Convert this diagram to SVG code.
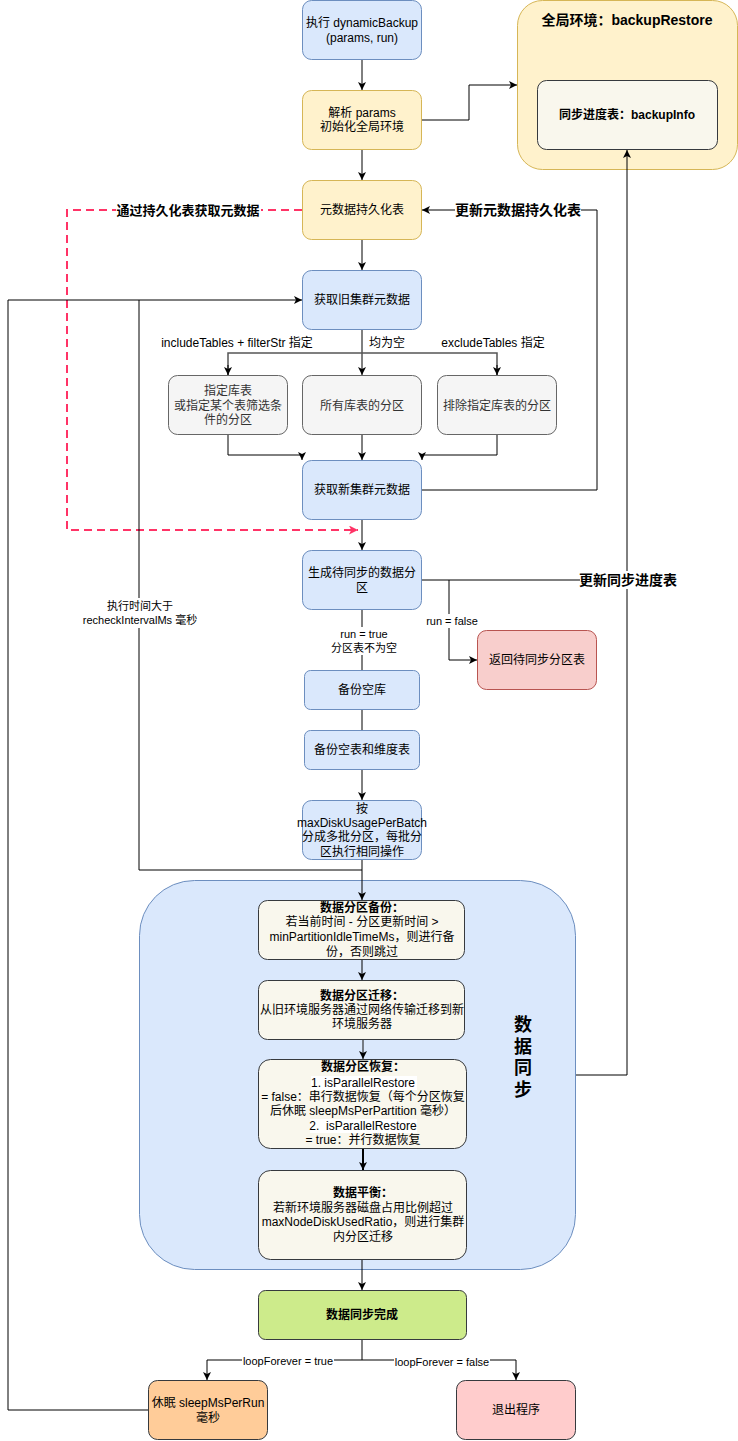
<svg xmlns="http://www.w3.org/2000/svg" width="738" height="1441" viewBox="0 0 738 1441">
<style>
text{font-family:"Liberation Sans","Noto Sans CJK SC",sans-serif;font-size:12px;fill:#000;text-anchor:middle;dominant-baseline:central}
.b{font-weight:bold}
.s{font-size:11px}
.g{fill:#333333}
.blue{fill:#dae8fc;stroke:#6c8ebf}
.yel{fill:#fff2cc;stroke:#d6b656}
.gray{fill:#f5f5f5;stroke:#666666}
.cream{fill:#f9f7ed;stroke:#36393d}
.e{fill:none;stroke:#000;stroke-width:1}
.lb{fill:#fff;stroke:none}
</style>
<defs>
<marker id="a" viewBox="0 0 8 8" refX="8" refY="4" markerWidth="8" markerHeight="8" markerUnits="userSpaceOnUse" orient="auto"><path d="M0,0 L8,4 L0,8 L2,4 z" fill="#000"/></marker>
<marker id="ar" viewBox="0 0 8 8" refX="8" refY="4" markerWidth="9" markerHeight="9" markerUnits="userSpaceOnUse" orient="auto"><path d="M0,0 L8,4 L0,8 L2,4 z" fill="#ff3366"/></marker>
</defs>
<rect width="738" height="1441" fill="#fff"/>

<g id="global-env">
<rect x="517.5" y="0.5" width="220" height="169" rx="25" class="yel"/>
<text x="627" y="20" class="b" style="font-size:14px">全局环境：backupRestore</text>
</g>
<g id="backupInfo">
<rect x="537.5" y="80.5" width="180" height="69" rx="9" class="cream"/>
<text x="627" y="115" class="b">同步进度表：backupInfo</text>
</g>

<g id="sync-container">
<rect x="139.5" y="880.5" width="436" height="389" rx="55" class="blue"/>
<text x="523" y="1025" class="b" style="font-size:18px">数</text>
<text x="523" y="1047" class="b" style="font-size:18px">据</text>
<text x="523" y="1068" class="b" style="font-size:18px">同</text>
<text x="523" y="1090" class="b" style="font-size:18px">步</text>
</g>

<g id="connectors">
<path class="e" d="M362,60 V90" marker-end="url(#a)"/>
<path class="e" d="M422,120 H469 V85 H517" marker-end="url(#a)"/>
<path class="e" d="M362,150 V180" marker-end="url(#a)"/>
<path class="e" d="M362,240 V270" marker-end="url(#a)"/>
<path class="e" d="M362,330 V375" marker-end="url(#a)"/>
<path d="M228,375 V353 H497 V375" fill="none" stroke="#555" stroke-width="1.5"/>
<path class="e" d="M228,365 V375" marker-end="url(#a)"/>
<path class="e" d="M497,365 V375" marker-end="url(#a)"/>
<path class="e" d="M228,435 V455 H302 V460" marker-end="url(#a)"/>
<path class="e" d="M362,435 V460" marker-end="url(#a)"/>
<path class="e" d="M497,435 V455 H422 V460" marker-end="url(#a)"/>
<path class="e" d="M422,490 H597 V210 H422" marker-end="url(#a)"/>
<path d="M302,210 H67 V530 H358" fill="none" stroke="#ff3366" stroke-width="2" stroke-dasharray="8 5" marker-end="url(#ar)"/>
<path class="e" d="M362,520 V550" marker-end="url(#a)"/>
<path class="e" d="M422,580 H627"/>
<path class="e" d="M576,1075 H627 V150" marker-end="url(#a)"/>
<path class="e" d="M449,580 V660 H477" marker-end="url(#a)"/>
<path class="e" d="M362,610 V670"/>
<path class="e" d="M362,710 V730"/>
<path class="e" d="M362,770 V800" marker-end="url(#a)"/>
<path class="e" d="M362,860 V900" marker-end="url(#a)"/>
<path class="e" d="M362,870 H139 V300 H302" marker-end="url(#a)"/>
<path class="e" d="M148,1410 H8 V300 H139"/>
<path class="e" d="M362,960 V980" marker-end="url(#a)"/>
<path d="M363,1040 V1059" fill="none" stroke="#333" stroke-width="1.2" marker-end="url(#a)"/>
<path d="M363,1149 V1170" fill="none" stroke="#000" stroke-width="2" marker-end="url(#a)"/>
<path class="e" d="M362,1270 V1290" marker-end="url(#a)"/>
<path class="e" d="M362,1260 V1270"/>
<path class="e" d="M362,1340 V1360 H207 V1380" marker-end="url(#a)"/>
<path class="e" d="M362,1360 H516 V1380" marker-end="url(#a)"/>

<rect class="lb" x="116" y="202" width="145" height="16"/>
<text x="188" y="210" class="b" style="font-size:13px">通过持久化表获取元数据</text>
<rect class="lb" x="455" y="201" width="126" height="18"/>
<text x="518" y="210" class="b" style="font-size:14px">更新元数据持久化表</text>
<text x="237" y="343">includeTables + filterStr 指定</text>
<text x="387" y="343">均为空</text>
<text x="493" y="343">excludeTables 指定</text>
<rect class="lb" x="580" y="571" width="97" height="18"/>
<text x="628" y="580" class="b" style="font-size:14px">更新同步进度表</text>
<rect class="lb" x="425" y="614" width="54" height="14"/>
<text x="452" y="621" class="s">run = false</text>
<rect class="lb" x="333" y="627" width="62" height="28"/>
<text x="364" y="634" class="s">run = true</text>
<text x="364" y="648" class="s">分区表不为空</text>
<rect class="lb" x="82" y="598" width="116" height="30"/>
<text x="140" y="606" class="s">执行时间大于</text>
<text x="140" y="620" class="s">recheckIntervalMs 毫秒</text>
<rect class="lb" x="242" y="1354" width="92" height="14"/>
<text x="288" y="1361" class="s">loopForever = true</text>
<rect class="lb" x="394" y="1355" width="96" height="14"/>
<text x="442" y="1362" class="s">loopForever = false</text>
</g>

<g id="n-start">
<rect x="302.5" y="0.5" width="119" height="59" rx="9" class="blue"/>
<text x="362" y="23">执行 dynamicBackup</text>
<text x="362" y="38">(params, run)</text>
</g>
<g id="n-parse">
<rect x="302.5" y="90.5" width="119" height="59" rx="9" class="yel"/>
<text x="362" y="113">解析 params</text>
<text x="362" y="127">初始化全局环境</text>
</g>
<g id="n-meta-table">
<rect x="302.5" y="180.5" width="119" height="59" rx="9" class="yel"/>
<text x="362" y="210">元数据持久化表</text>
</g>
<g id="n-old-meta">
<rect x="302.5" y="270.5" width="119" height="59" rx="9" class="blue"/>
<text x="362" y="300">获取旧集群元数据</text>
</g>
<g id="n-include">
<rect x="168.5" y="375.5" width="119" height="59" rx="9" class="gray"/>
<text x="228" y="391" class="g">指定库表</text>
<text x="228" y="406" class="g">或指定某个表筛选条</text>
<text x="228" y="420" class="g">件的分区</text>
</g>
<g id="n-all">
<rect x="302.5" y="375.5" width="119" height="59" rx="9" class="gray"/>
<text x="362" y="406" class="g">所有库表的分区</text>
</g>
<g id="n-exclude">
<rect x="437.5" y="375.5" width="119" height="59" rx="9" class="gray"/>
<text x="497" y="406" class="g">排除指定库表的分区</text>
</g>
<g id="n-new-meta">
<rect x="302.5" y="460.5" width="119" height="59" rx="9" class="blue"/>
<text x="362" y="490">获取新集群元数据</text>
</g>
<g id="n-gen">
<rect x="302.5" y="550.5" width="119" height="59" rx="9" class="blue"/>
<text x="362" y="573">生成待同步的数据分</text>
<text x="362" y="588">区</text>
</g>
<g id="n-return">
<rect x="477.5" y="630.5" width="119" height="59" rx="9" fill="#f8cecc" stroke="#b85450"/>
<text x="537" y="660">返回待同步分区表</text>
</g>
<g id="n-empty-db">
<rect x="304.5" y="670.5" width="115" height="39" rx="6" class="blue"/>
<text x="362" y="690">备份空库</text>
</g>
<g id="n-empty-table">
<rect x="304.5" y="730.5" width="115" height="39" rx="6" class="blue"/>
<text x="362" y="750">备份空表和维度表</text>
</g>
<g id="n-batch">
<rect x="302.5" y="800.5" width="119" height="59" rx="9" class="blue"/>
<text x="362" y="809">按</text>
<text x="362" y="823">maxDiskUsagePerBatch</text>
<text x="362" y="837">分成多批分区，每批分</text>
<text x="362" y="852">区执行相同操作</text>
</g>
<g id="n-backup">
<rect x="258.5" y="900.5" width="206" height="59" rx="9" class="cream"/>
<text x="362" y="908" class="b">数据分区备份：</text>
<text x="362" y="922">若当前时间 - 分区更新时间 &gt;</text>
<text x="362" y="937">minPartitionIdleTimeMs，则进行备</text>
<text x="362" y="952">份，否则跳过</text>
</g>
<g id="n-migrate">
<rect x="258.5" y="980.5" width="206" height="59" rx="9" class="cream"/>
<text x="362" y="996" class="b">数据分区迁移：</text>
<text x="362" y="1010">从旧环境服务器通过网络传输迁移到新</text>
<text x="362" y="1024">环境服务器</text>
</g>
<g id="n-restore">
<rect x="258.5" y="1059.5" width="208" height="89" rx="12" class="cream"/>
<text x="363" y="1067" class="b">数据分区恢复：</text>
<rect x="311" y="1076" width="106" height="14" fill="#fff"/>
<text x="363" y="1083">1. isParallelRestore</text>
<text x="363" y="1097">= false：串行数据恢复（每个分区恢复</text>
<text x="363" y="1111">后休眠 sleepMsPerPartition 毫秒）</text>
<rect x="310" y="1119" width="107" height="14" fill="#fff"/>
<text x="363" y="1126">2. &#160;isParallelRestore</text>
<text x="363" y="1140">= true：并行数据恢复</text>
</g>
<g id="n-balance">
<rect x="258.5" y="1170.5" width="208" height="89" rx="12" class="cream"/>
<text x="363" y="1193" class="b">数据平衡：</text>
<text x="363" y="1208">若新环境服务器磁盘占用比例超过</text>
<text x="363" y="1222">maxNodeDiskUsedRatio，则进行集群</text>
<text x="363" y="1237">内分区迁移</text>
</g>
<g id="n-done">
<rect x="258.5" y="1290.5" width="208" height="49" rx="7" fill="#cdeb8b" stroke="#36393d"/>
<text x="362" y="1315" class="b">数据同步完成</text>
</g>
<g id="n-sleep">
<rect x="148.5" y="1380.5" width="119" height="59" rx="9" fill="#ffcc99" stroke="#36393d"/>
<text x="208" y="1403">休眠 sleepMsPerRun</text>
<text x="208" y="1418">毫秒</text>
</g>
<g id="n-exit">
<rect x="456.5" y="1380.5" width="119" height="59" rx="9" fill="#ffcccc" stroke="#36393d"/>
<text x="516" y="1410">退出程序</text>
</g>
</svg>
